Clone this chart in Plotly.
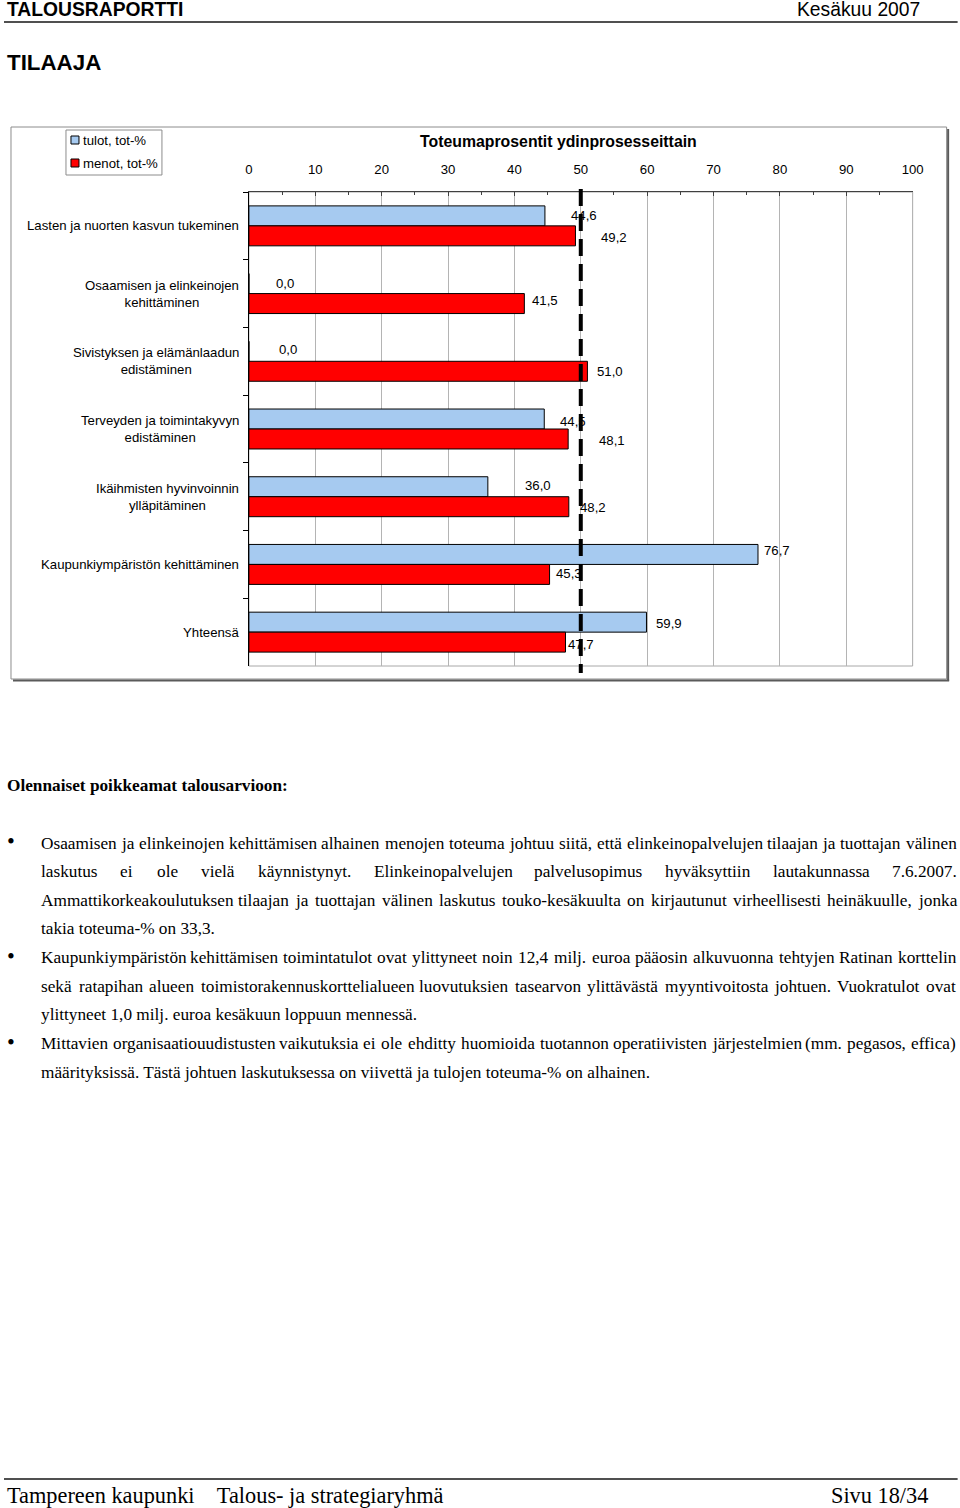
import plotly.graph_objects as go

# ---------------- data ----------------
CATEGORIES = [
    "Lasten ja nuorten kasvun tukeminen",
    "Osaamisen ja elinkeinojen<br>kehittäminen",
    "Sivistyksen ja elämänlaadun<br>edistäminen",
    "Terveyden ja toimintakyvyn<br>edistäminen",
    "Ikäihmisten hyvinvoinnin<br>ylläpitäminen",
    "Kaupunkiympäristön kehittäminen",
    "Yhteensä",
]
TULOT = [44.6, 0.0, 0.0, 44.5, 36.0, 76.7, 59.9]
MENOT = [49.2, 41.5, 51.0, 48.1, 48.2, 45.3, 47.7]
SERIES_NAMES = ["tulot, tot-%", "menot, tot-%"]
TARGET = 50
X_TICKS = [0, 10, 20, 30, 40, 50, 60, 70, 80, 90, 100]
CHART_TITLE = "Toteumaprosentit ydinprosesseittain"

HEADER_LEFT = "TALOUSRAPORTTI"
HEADER_RIGHT = "Kesäkuu 2007"
SECTION = "TILAAJA"
NOTES_TITLE = "Olennaiset poikkeamat talousarvioon:"
NOTES = [
    [
        "Osaamisen ja elinkeinojen kehittämisen alhainen menojen toteuma johtuu siitä, että elinkeinopalvelujen tilaajan ja tuottajan välinen",
        "laskutus ei ole vielä käynnistynyt. Elinkeinopalvelujen palvelusopimus hyväksyttiin lautakunnassa 7.6.2007.",
        "Ammattikorkeakoulutuksen tilaajan ja tuottajan välinen laskutus touko-kesäkuulta on kirjautunut virheellisesti heinäkuulle, jonka",
        "takia toteuma-% on 33,3.",
    ],
    [
        "Kaupunkiympäristön kehittämisen toimintatulot ovat ylittyneet noin 12,4 milj. euroa pääosin alkuvuonna tehtyjen Ratinan korttelin",
        "sekä ratapihan alueen toimistorakennuskorttelialueen luovutuksien tasearvon ylittävästä myyntivoitosta johtuen. Vuokratulot ovat",
        "ylittyneet 1,0 milj. euroa kesäkuun loppuun mennessä.",
    ],
    [
        "Mittavien organisaatiouudistusten vaikutuksia ei ole ehditty huomioida tuotannon operatiivisten järjestelmien (mm. pegasos, effica)",
        "määrityksissä. Tästä johtuen laskutuksessa on viivettä ja tulojen toteuma-% on alhainen.",
    ],
]
FOOTER_LEFT = "Tampereen kaupunki   Talous- ja strategiaryhmä"
FOOTER_RIGHT = "Sivu 18/34"

# ---------------- styling / layout helpers ----------------
WF, H = 975, 1508          # figure size (page px)
SX, OX = 0.985, 4.0        # horizontal compensation of the capture
BLUE = "#A6CAF0"
RED = "#FF0000"
SANS = "Liberation Sans, Arial, sans-serif"
SERIF = "Liberation Serif, Times New Roman, serif"

# label offsets (pixels) from bar end / category centre
LBL_DX_T = [26, 27, 30, 16, 37, 6, 9]
LBL_DX_M = [25, 8, 9, 30, 11, 6, 2]
LBL_DY_T = [-10, -10, -12, -8, -11, -14, -9]
LBL_DY_M = [12, 7, 10, 11, 11, 9, 12]


def page_x(X):
    return (X - OX) / SX


def px(X):
    return page_x(X) / WF


def py(y):
    return 1 - y / H


def fs(s):
    return round(s / SX, 2)


PLOT_L, PLOT_R, PLOT_T, PLOT_B = 249, 913, 192, 666

fig = go.Figure()
fig.add_trace(go.Bar(
    y=CATEGORIES, x=TULOT, orientation="h", name=SERIES_NAMES[0],
    marker=dict(color=BLUE, line=dict(color="black", width=1)),
    hoverinfo="x+y",
))
fig.add_trace(go.Bar(
    y=CATEGORIES, x=MENOT, orientation="h", name=SERIES_NAMES[1],
    marker=dict(color=RED, line=dict(color="black", width=1)),
    hoverinfo="x+y",
))

annotations = []
shapes = []

# category labels
for c in CATEGORIES:
    annotations.append(dict(
        x=px(240), xref="paper", y=c, yref="y", text=c, showarrow=False,
        xanchor="right", yanchor="middle", align="center",
        font=dict(family=SANS, size=fs(13), color="black"), borderpad=0,
    ))


def fmt(v):
    return f"{v:.1f}".replace(".", ",")


# data labels
for i, c in enumerate(CATEGORIES):
    annotations.append(dict(
        x=TULOT[i], xref="x", y=c, yref="y", text=fmt(TULOT[i]), showarrow=False,
        xanchor="left", yanchor="middle", xshift=(LBL_DX_T[i] - 1) / SX, yshift=-LBL_DY_T[i],
        font=dict(family=SANS, size=fs(13), color="black"), borderpad=0,
    ))
    annotations.append(dict(
        x=MENOT[i], xref="x", y=c, yref="y", text=fmt(MENOT[i]), showarrow=False,
        xanchor="left", yanchor="middle", xshift=(LBL_DX_M[i] - 1) / SX, yshift=-LBL_DY_M[i],
        font=dict(family=SANS, size=fs(13), color="black"), borderpad=0,
    ))

# chart title
annotations.append(dict(
    x=px(559), y=py(142), xref="paper", yref="paper", text=f"<b>{CHART_TITLE}</b>",
    showarrow=False, xanchor="center", yanchor="middle",
    font=dict(family=SANS, size=fs(15.6), color="black"),
))

# chart frame + shadow
shapes.append(dict(type="rect", xref="paper", yref="paper",
                   x0=px(11), x1=px(947), y0=py(679), y1=py(127),
                   line=dict(color="#8C8C8C", width=1), layer="below"))
shapes.append(dict(type="line", xref="paper", yref="paper",
                   x0=px(948.5), x1=px(948.5), y0=py(129), y1=py(681),
                   line=dict(color="#5A5A5A", width=2)))
shapes.append(dict(type="line", xref="paper", yref="paper",
                   x0=px(13), x1=px(949.5), y0=py(680.5), y1=py(680.5),
                   line=dict(color="#5A5A5A", width=2)))
# plot area border
shapes.append(dict(type="rect", xref="paper", yref="paper",
                   x0=px(PLOT_L), x1=px(PLOT_R), y0=py(PLOT_B), y1=py(PLOT_T),
                   line=dict(color="#A8A8A8", width=1), layer="below"))

# target dashed line
shapes.append(dict(type="line", xref="x", yref="paper",
                   x0=TARGET, x1=TARGET, y0=py(189), y1=py(673),
                   line=dict(color="black", width=4, dash="17px,8px"), layer="above"))

# legend (manual)
shapes.append(dict(type="rect", xref="paper", yref="paper",
                   x0=px(66), x1=px(162), y0=py(175), y1=py(130),
                   line=dict(color="#8C8C8C", width=1), fillcolor="white"))
for k, (col, yc) in enumerate([(BLUE, 140), (RED, 163)]):
    shapes.append(dict(type="rect", xref="paper", yref="paper",
                       x0=px(71), x1=px(79), y0=py(yc + 4), y1=py(yc - 4),
                       line=dict(color="black", width=1), fillcolor=col))
    annotations.append(dict(
        x=px(82), y=py(yc), xref="paper", yref="paper", text=SERIES_NAMES[k],
        showarrow=False, xanchor="left", yanchor="middle", borderpad=0,
        font=dict(family=SANS, size=fs(13), color="black"),
    ))

# header
annotations.append(dict(x=px(6), y=py(9), xref="paper", yref="paper",
                        text=f"<b>{HEADER_LEFT}</b>", showarrow=False,
                        xanchor="left", yanchor="middle", borderpad=0,
                        font=dict(family=SANS, size=fs(19), color="black")))
annotations.append(dict(x=px(921), y=py(9), xref="paper", yref="paper",
                        text=HEADER_RIGHT, showarrow=False,
                        xanchor="right", yanchor="middle", borderpad=0,
                        font=dict(family=SANS, size=fs(19), color="black")))
shapes.append(dict(type="line", xref="paper", yref="paper",
                   x0=px(4), x1=px(958), y0=py(22), y1=py(22),
                   line=dict(color="#505050", width=2)))
annotations.append(dict(x=px(6), y=py(62), xref="paper", yref="paper",
                        text=f"<b>{SECTION}</b>", showarrow=False,
                        xanchor="left", yanchor="middle", borderpad=0,
                        font=dict(family=SANS, size=fs(22), color="black")))

# ---------------- notes (justified text) ----------------
TW = {' ': 250, '!': 333, '%': 833, '(': 333, ')': 333, ',': 250, '-': 333, '.': 250,
      '/': 278, ':': 278, 'A': 722, 'B': 667, 'C': 667, 'D': 722, 'E': 611, 'F': 556,
      'G': 722, 'H': 722, 'I': 333, 'J': 389, 'K': 722, 'L': 611, 'M': 889, 'N': 722,
      'O': 722, 'P': 556, 'Q': 722, 'R': 667, 'S': 556, 'T': 611, 'U': 722, 'V': 722,
      'W': 944, 'X': 722, 'Y': 722, 'Z': 611, 'a': 444, 'b': 500, 'c': 444, 'd': 500,
      'e': 444, 'f': 333, 'g': 500, 'h': 500, 'i': 278, 'j': 278, 'k': 500, 'l': 278,
      'm': 778, 'n': 500, 'o': 500, 'p': 500, 'q': 500, 'r': 333, 's': 389, 't': 278,
      'u': 500, 'v': 500, 'w': 722, 'x': 500, 'y': 500, 'z': 444, 'ä': 444, 'ö': 500,
      'Ä': 722, 'Ö': 722}


def tw(s, size):
    return sum(TW.get(ch, 500) for ch in s) * size / 1000.0


BODY = 17
BODY_P = fs(BODY)
TXT_L_P = page_x(40)
TXT_R_P = page_x(955)
annotations.append(dict(x=px(6), y=py(785), xref="paper", yref="paper",
                        text=f"<b>{NOTES_TITLE}</b>", showarrow=False,
                        xanchor="left", yanchor="middle", borderpad=0,
                        font=dict(family=SERIF, size=BODY_P, color="black")))

line_y = 843
LINE_H = 28.65
for para in NOTES:
    annotations.append(dict(x=px(11), y=py(line_y - 1), xref="paper", yref="paper",
                            text="•", showarrow=False, xanchor="center", yanchor="middle",
                            borderpad=0, font=dict(family=SERIF, size=fs(22), color="black")))
    for li, line in enumerate(para):
        last = li == len(para) - 1
        if last:
            annotations.append(dict(x=TXT_L_P / WF, y=py(line_y), xref="paper", yref="paper",
                                    text=line, showarrow=False, xanchor="left",
                                    yanchor="middle", borderpad=0,
                                    font=dict(family=SERIF, size=BODY_P, color="black")))
        else:
            words = line.split(" ")
            widths = [tw(w_, BODY_P) for w_ in words]
            gap = (TXT_R_P - TXT_L_P - sum(widths)) / (len(words) - 1)
            xcur = TXT_L_P
            for w_, wd in zip(words, widths):
                annotations.append(dict(x=xcur / WF, y=py(line_y), xref="paper", yref="paper",
                                        text=w_, showarrow=False, xanchor="left",
                                        yanchor="middle", borderpad=0,
                                        font=dict(family=SERIF, size=BODY_P, color="black")))
                xcur += wd + gap
        line_y += LINE_H

# footer
shapes.append(dict(type="line", xref="paper", yref="paper",
                   x0=px(4), x1=px(958), y0=py(1479), y1=py(1479),
                   line=dict(color="#505050", width=2)))
annotations.append(dict(x=px(6), y=py(1495), xref="paper", yref="paper",
                        text=FOOTER_LEFT.replace("   ", "&nbsp;&nbsp;&nbsp;&nbsp;"),
                        showarrow=False, xanchor="left", yanchor="middle", borderpad=0,
                        font=dict(family=SERIF, size=fs(22), color="black")))
annotations.append(dict(x=px(929), y=py(1495), xref="paper", yref="paper",
                        text=FOOTER_RIGHT, showarrow=False, xanchor="right",
                        yanchor="middle", borderpad=0,
                        font=dict(family=SERIF, size=fs(22), color="black")))

fig.update_layout(
    width=WF, height=H,
    margin=dict(l=0, r=0, t=0, b=0),
    paper_bgcolor="white", plot_bgcolor="white",
    barmode="group", bargap=0.41, bargroupgap=0,
    showlegend=False,
    annotations=annotations, shapes=shapes,
    font=dict(family=SANS, size=fs(13), color="black"),
    xaxis=dict(
        domain=[px(PLOT_L), px(PLOT_R)], range=[0, 100], side="top",
        tickmode="array", tickvals=X_TICKS, ticktext=[str(t) for t in X_TICKS],
        showgrid=True, gridcolor="#B4B4B4", gridwidth=1,
        showline=True, linecolor="#404040", linewidth=1,
        ticks="inside", ticklen=4, tickcolor="#404040",
        minor=dict(tickvals=[5, 15, 25, 35, 45, 55, 65, 75, 85, 95], ticks="inside",
                   ticklen=3, tickcolor="#404040", showgrid=False),
        tickfont=dict(family=SANS, size=fs(13), color="black"),
        ticklabelstandoff=12, zeroline=False, fixedrange=True,
    ),
    yaxis=dict(
        domain=[py(PLOT_B), py(PLOT_T)], type="category", autorange="reversed",
        showticklabels=False, ticks="outside", ticklen=5, tickcolor="black",
        tickson="boundaries", showline=True, linecolor="black", linewidth=1,
        showgrid=False, zeroline=False, fixedrange=True,
    ),
)

POST = (
    "document.documentElement.style.margin='0';"
    "document.documentElement.style.overflow='hidden';"
    "document.body.style.margin='0';"
    "document.body.style.overflow='hidden';"
)

fig.write_html("out.html", config={"displayModeBar": False}, post_script=POST)
